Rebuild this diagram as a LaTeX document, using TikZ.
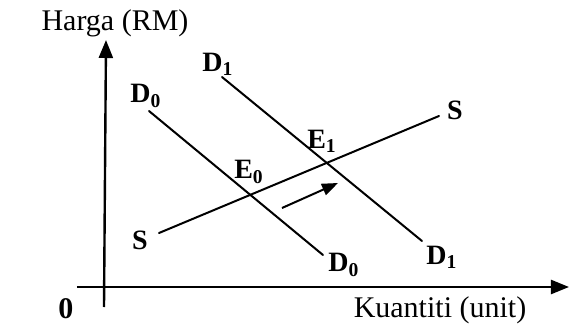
\documentclass[tikz,border=0pt]{standalone}
\usepackage{fontspec}
\setmainfont{Liberation Serif}
\usetikzlibrary{arrows.meta, positioning}

\tikzset{
  curve/.style={line width=1pt, line cap=round},
  axis/.style={line width=1.2pt, -{Triangle[width=7pt,length=9pt]}},
  lbl/.style={font=\fontsize{14}{16}\selectfont\bfseries, inner sep=0pt},
  title/.style={font=\fontsize{15}{17}\selectfont, inner sep=0pt}
}

\begin{document}
\begin{tikzpicture}[x=0.5pt,y=-0.5pt,>=Stealth]
  \useasboundingbox (0,0) rectangle (570,333);
  % axes
  \coordinate (ybot) at (104,307);
  \coordinate (ytop) at (106,40);
  \coordinate (xleft) at (77,287);
  \coordinate (xright) at (569,287);
  \draw[axis] (ybot) -- (ytop);
  \draw[axis] (xleft) -- (xright);
  \node[title] (ylab) at (115,23) {Harga (RM)};
  \node[title] (xlab) at (440,310) {Kuantiti (unit)};
  \node[lbl, font=\fontsize{15}{17}\selectfont\bfseries] (orig) at (66,309) {0};
  % demand and supply curves
  \coordinate (d0a) at (149,111);
  \coordinate (d0b) at (323,255);
  \coordinate (d1a) at (222,77);
  \coordinate (d1b) at (422,241);
  \coordinate (sa) at (159,233);
  \coordinate (sb) at (439,116);
  \draw[curve] (d0a) -- (d0b);
  \draw[curve] (d1a) -- (d1b);
  \draw[curve] (sa) -- (sb);
  \node[lbl] (d0top) at (146,96) {D\textsubscript{0}};
  \node[lbl] (d0bot) at (344,265) {D\textsubscript{0}};
  \node[lbl] (d1top) at (218,64) {D\textsubscript{1}};
  \node[lbl] (d1bot) at (442,257) {D\textsubscript{1}};
  \node[lbl] (stop) at (455,110) {S};
  \node[lbl] (sleft) at (140,240) {S};
  \node[lbl] (e0) at (249,172) {E\textsubscript{0}};
  \node[lbl] (e1) at (322,141) {E\textsubscript{1}};
  % shift of demand
  \coordinate (shfa) at (282,208);
  \coordinate (shfb) at (338,183);
  \draw[line width=1pt, -{Triangle[width=6pt,length=8pt]}] (shfa) -- (shfb);
\end{tikzpicture}
\end{document}
